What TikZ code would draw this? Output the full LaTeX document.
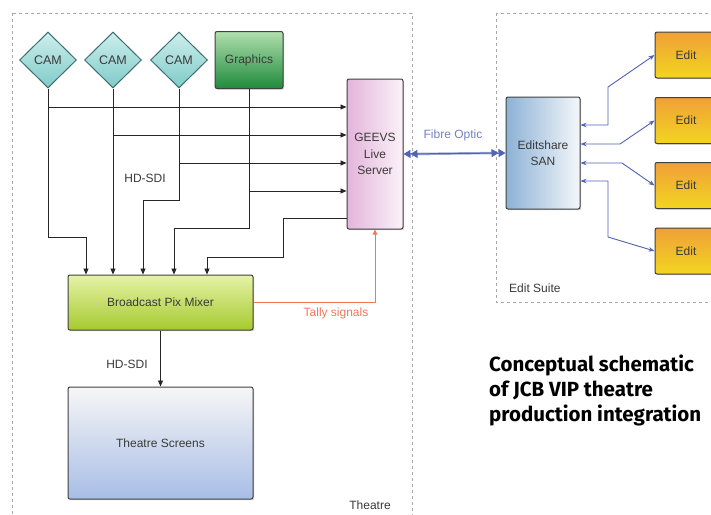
\documentclass[tikz,border=0pt]{standalone}
\usepackage{fontspec}
\setmainfont{Liberation Sans}
\newfontfamily\titlefont{Fira Sans}
\usetikzlibrary{shapes.geometric,arrows.meta,shadows}
\definecolor{camdraw}{HTML}{3E6F70}
\definecolor{camtop}{HTML}{CDEEEC}
\definecolor{cambot}{HTML}{7FCBC8}
\definecolor{grtop}{HTML}{B0DFAE}
\definecolor{grbot}{HTML}{1F8A3C}
\definecolor{geevsl}{HTML}{E3B5DA}
\definecolor{geevsr}{HTML}{FBF2F9}
\definecolor{sanl}{HTML}{8DB2D6}
\definecolor{sanr}{HTML}{F4F7FA}
\definecolor{edtop}{HTML}{F0A038}
\definecolor{edbot}{HTML}{F2D520}
\definecolor{mxtop}{HTML}{E6F2A8}
\definecolor{mxbot}{HTML}{A6CA2E}
\definecolor{sctop}{HTML}{F6F6F6}
\definecolor{scbot}{HTML}{A8BDE6}
\definecolor{tally}{HTML}{F07858}
\definecolor{fibre}{HTML}{5262B4}
\definecolor{txt}{HTML}{3A3A3A}
\definecolor{zone}{HTML}{A8A8A8}
\tikzset{
  zonebox/.style={draw=zone, dashed, line width=0.8pt},
  basebox/.style={draw=black!75, line width=1pt, rounded corners=2pt, text=txt,
    font=\fontsize{12}{16.5}\selectfont, align=center, inner sep=0pt,
    drop shadow={opacity=0.35, shadow xshift=1.2pt, shadow yshift=-1.2pt}},
  cam/.style={diamond, draw=camdraw, line width=1pt, top color=camtop, bottom color=cambot,
    minimum width=57pt, minimum height=56pt, inner sep=0pt, text=txt,
    font=\fontsize{12.5}{14}\selectfont},
  sig/.style={draw=black!85, line width=0.9pt},
  sigarr/.style={sig, -{Triangle[length=6pt,width=5pt]}},
  bluearr/.style={draw=fibre, line width=0.9pt, {Stealth[length=6pt,width=4.5pt]}-{Stealth[length=6pt,width=4.5pt]}},
  lbl/.style={text=txt, font=\fontsize{12}{14}\selectfont, inner sep=0pt},
}
\begin{document}
\begin{tikzpicture}[x=1pt,y=-1pt]
\useasboundingbox (0,0) rectangle (711,514);
\fill[white] (0,0) rectangle (711,514);
\clip (0,0) rectangle (711,514);
% zones
\draw[zonebox] (12,13) rectangle (412,530);
\draw[zonebox] (496,13) rectangle (730,302);
\node[lbl, anchor=base] (theatrelbl) at (370,509) {Theatre};
\node[lbl, anchor=base west] (suitelbl) at (509,292) {Edit Suite};
% sources
\node[cam] (cam1) at (48,60) {CAM};
\node[cam] (cam2) at (113,60) {CAM};
\node[cam] (cam3) at (179,60) {CAM};
\node[basebox, top color=grtop, bottom color=grbot, minimum width=68pt, minimum height=57pt] (gfx) at (249,60) {Graphics};
% GEEVS
\node[basebox, left color=geevsl, right color=geevsr, minimum width=56pt, minimum height=150pt] (geevs) at (375,154) {GEEVS\\Live\\Server};
% mixer
\node[basebox, top color=mxtop, bottom color=mxbot, minimum width=185pt, minimum height=55pt] (mixer) at (160.5,302.5) {Broadcast Pix Mixer};
% screens
\node[basebox, top color=sctop, bottom color=scbot, minimum width=185pt, minimum height=112pt] (screens) at (160.5,443) {Theatre Screens};
% SAN
\node[basebox, left color=sanl, right color=sanr, minimum width=74pt, minimum height=112pt] (san) at (543,153) {Editshare\\SAN};
% edits
\foreach \i/\y in {1/55,2/120.5,3/185.5,4/251}{
  \node[basebox, top color=edtop, bottom color=edbot, minimum width=62pt, minimum height=46pt] (edit\i) at (686,\y) {Edit};
}
% branch coordinates
\coordinate (b1) at (48,107);
\coordinate (b2) at (113,135);
\coordinate (b3) at (179,163);
\coordinate (b4) at (249,191);
\coordinate (g1) at (283,218);
% feeds to GEEVS
\draw[sigarr] (b1) -- (b1 -| geevs.west);
\draw[sigarr] (b2) -- (b2 -| geevs.west);
\draw[sigarr] (b3) -- (b3 -| geevs.west);
\draw[sigarr] (b4) -- (b4 -| geevs.west);
% feeds to mixer
\draw[sigarr] (cam1.south) -- (48,237) -- (86,237) -- (86,0 |- mixer.north);
\draw[sigarr] (cam2.south) -- (cam2.south |- mixer.north);
\draw[sigarr] (cam3.south) -- (179,200) -- (143,200) -- (143,0 |- mixer.north);
\draw[sigarr] (gfx.south) -- (249,228) -- (174,228) -- (174,0 |- mixer.north);
\draw[sigarr] (g1 -| geevs.west) -- (g1) -- (283,257) -- (207,257) -- (207,0 |- mixer.north);
\node[lbl] (hdsdi1) at (145,178) {HD-SDI};
% mixer to screens
\draw[sigarr] (mixer.south) -- (screens.north);
\node[lbl] (hdsdi2) at (127,364) {HD-SDI};
% tally
\draw[draw=tally, line width=0.9pt, -{Triangle[length=5pt,width=4.5pt]}] (mixer.east) -- (375,302.5) -- (geevs.south);
\node[lbl, text=tally] (tallylbl) at (336,313) {Tally signals};
% fibre
\draw[draw=fibre!55, line width=2.4pt] ([xshift=10pt]geevs.east) -- ([xshift=-10pt]san.west);
\draw[draw=fibre, line width=1pt, {Triangle[length=7pt,width=8pt]Triangle[length=7pt,width=8pt]}-{Triangle[length=7pt,width=8pt]Triangle[length=7pt,width=8pt]}] (geevs.east) -- (san.west);
\node[lbl, text=fibre!80] (fibrelbl) at (453,135) {Fibre Optic};
% edit links
\draw[bluearr] (san.east |- 0,125) -- (608,125) -- (608,87) -- (edit1.west);
\draw[bluearr] (san.east |- 0,144) -- (620,144) -- (edit2.west);
\draw[bluearr] (san.east |- 0,163) -- (622,163) -- (edit3.west);
\draw[bluearr] (san.east |- 0,181) -- (608,181) -- (608,237) -- (edit4.west);
% title
\node[anchor=north west, align=left, inner sep=0pt, font=\titlefont\bfseries\fontsize{20.5}{25}\selectfont] (title) at (489,355) {Conceptual schematic\\of JCB VIP theatre\\production integration};
\end{tikzpicture}
\end{document}
